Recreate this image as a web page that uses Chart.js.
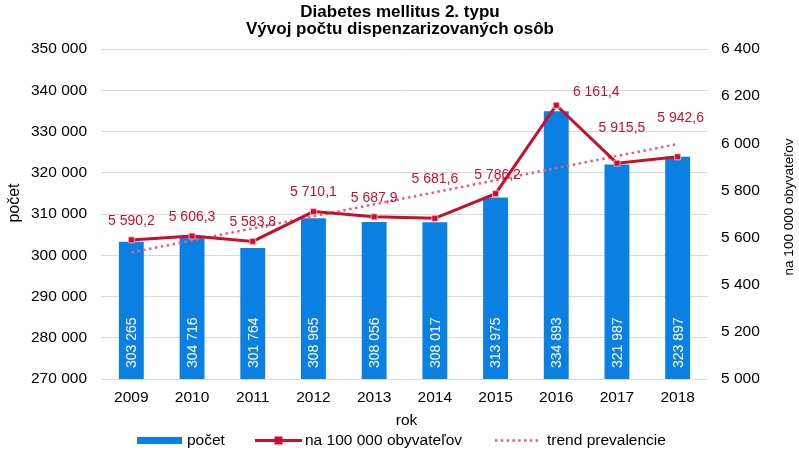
<!DOCTYPE html>
<html>
<head>
<meta charset="utf-8">
<script src="https://cdn.jsdelivr.net/npm/chart.js@4/dist/chart.umd.min.js"></script>
<style>
html,body{margin:0;padding:0;background:#fff;}
#wrap{width:799px;height:451px;position:relative;}
</style>
</head>
<body>
<div id="wrap"><canvas id="c" width="799" height="451"></canvas></div>
<script>
// ---- data ----
const years = ['2009','2010','2011','2012','2013','2014','2015','2016','2017','2018'];
const pocet = [303265, 304716, 301764, 308965, 308056, 308017, 313975, 334893, 321987, 323897];
const prevalencia = [5590.2, 5606.3, 5583.8, 5710.1, 5687.9, 5681.6, 5786.2, 6161.4, 5915.5, 5942.6];
const trend = [5537, 5588, 5639, 5690, 5741, 5792, 5843, 5895, 5946, 5997];
const leftTicks = [270000, 280000, 290000, 300000, 310000, 320000, 330000, 340000, 350000];
const rightTicks = [5000, 5200, 5400, 5600, 5800, 6000, 6200, 6400];
const titleLines = ['Diabetes mellitus 2. typu', 'Vývoj počtu dispenzarizovaných osôb'];
const seriesNames = ['počet', 'na 100 000 obyvateľov', 'trend prevalencie'];

// ---- styling / placement (not data) ----
const BLUE = '#0A80E2', RED = '#C8102E', PINK = '#F2587E';
const FONT = '"Liberation Sans", Arial, sans-serif';
const lineLabelOffsets = [[0,-19],[0,-19],[0,-19],[0,-19],[0,-19],[0,-39],[2,-19],[40,-13],[5,-35],[3,-39]];

function fmt(v, dec) {
  let s = v.toFixed(dec);
  let [i, d] = s.split('.');
  i = i.replace(/\B(?=(\d{3})+(?!\d))/g, ' ');
  return d ? i + ',' + d : i;
}

const drawExtras = {
  id: 'drawExtras',
  afterDatasetsDraw(chart) {
    const ctx = chart.ctx;
    const area = chart.chartArea;
    ctx.save();
    // bar labels
    const barMeta = chart.getDatasetMeta(0);
    ctx.fillStyle = '#ffffff';
    ctx.font = '14px ' + FONT;
    ctx.textBaseline = 'middle';
    ctx.textAlign = 'left';
    barMeta.data.forEach((el, i) => {
      ctx.save();
      ctx.translate(el.x, area.bottom - 11);
      ctx.rotate(-Math.PI / 2);
      ctx.fillText(fmt(pocet[i], 0), 0, 1);
      ctx.restore();
    });
    // line labels
    const lineMeta = chart.getDatasetMeta(1);
    ctx.fillStyle = RED;
    ctx.textAlign = 'center';
    lineMeta.data.forEach((el, i) => {
      const o = lineLabelOffsets[i];
      ctx.fillText(fmt(prevalencia[i], 1), el.x + o[0], el.y + o[1]);
    });
    ctx.restore();
  },
  afterDraw(chart) {
    const ctx = chart.ctx;
    const area = chart.chartArea;
    ctx.save();
    // title
    ctx.fillStyle = '#000';
    ctx.font = 'bold 17px ' + FONT;
    ctx.textAlign = 'center';
    ctx.textBaseline = 'alphabetic';
    ctx.fillText(titleLines[0], 400, 17);
    ctx.fillText(titleLines[1], 400, 34);
    // axis titles
    ctx.textBaseline = 'middle';
    ctx.font = '16px ' + FONT;
    ctx.save(); ctx.translate(15, 203); ctx.rotate(-Math.PI/2); ctx.fillText('počet', 0, 0); ctx.restore();
    ctx.font = '13.5px ' + FONT;
    ctx.save(); ctx.translate(789, 207); ctx.rotate(-Math.PI/2); ctx.fillText(seriesNames[1], 0, 0); ctx.restore();
    ctx.font = '15.5px ' + FONT;
    ctx.fillText('rok', (area.left + area.right) / 2 + 2, 421);
    // legend
    const ly = 440.5;
    ctx.font = '15.5px ' + FONT;
    ctx.textAlign = 'left';
    ctx.fillStyle = BLUE;
    ctx.fillRect(137, 437, 45, 7);
    ctx.fillStyle = '#000';
    ctx.fillText(seriesNames[0], 187, ly);
    ctx.strokeStyle = RED; ctx.lineWidth = 3;
    ctx.beginPath(); ctx.moveTo(255, ly); ctx.lineTo(302, ly); ctx.stroke();
    ctx.fillStyle = RED; ctx.fillRect(274.5, ly - 4, 8, 8);
    ctx.fillStyle = '#000';
    ctx.fillText(seriesNames[1], 305, ly);
    ctx.strokeStyle = PINK; ctx.lineWidth = 2.5; ctx.setLineDash([2.5, 3.3]);
    ctx.beginPath(); ctx.moveTo(495, ly); ctx.lineTo(541, ly); ctx.stroke();
    ctx.setLineDash([]);
    ctx.fillStyle = '#000';
    ctx.fillText(seriesNames[2], 547, ly);
    ctx.restore();
  }
};

new Chart(document.getElementById('c'), {
  data: {
    labels: years,
    datasets: [
      { type: 'bar', label: seriesNames[0], data: pocet, yAxisID: 'y', backgroundColor: BLUE,
        barPercentage: 0.41, categoryPercentage: 1.0, order: 3 },
      { type: 'line', label: seriesNames[1], data: prevalencia, yAxisID: 'y1', borderColor: RED, borderWidth: 3,
        pointStyle: 'rect', pointRadius: 4.2, pointBackgroundColor: RED, pointBorderColor: '#F3C2CB', pointBorderWidth: 0.8,
        tension: 0, order: 1 },
      { type: 'line', label: seriesNames[2], data: trend, yAxisID: 'y1', borderColor: PINK, borderWidth: 2.5,
        borderDash: [2.5, 3.5], pointRadius: 0, tension: 0, order: 2 }
    ]
  },
  options: {
    responsive: false,
    animation: false,
    events: [],
    layout: { padding: { top: 49, left: 0, right: 0, bottom: 0 } },
    plugins: { legend: { display: false }, title: { display: false }, tooltip: { enabled: false } },
    scales: {
      x: {
        grid: { display: false, drawTicks: false },
        border: { display: false },
        ticks: { color: '#000', font: { family: FONT, size: 15.5 }, padding: 9, maxRotation: 0 },
        afterFit(s) { s.height = 72; }
      },
      y: {
        position: 'left', min: 270000, max: 350000,
        afterBuildTicks(s) { s.ticks = leftTicks.map(v => ({ value: v })); },
        grid: { color: '#D9D9D9', lineWidth: 1, drawTicks: false },
        border: { display: false },
        ticks: { color: '#000', font: { family: FONT, size: 15.5 }, padding: 14, callback: v => fmt(v, 0) },
        afterFit(s) { s.width = 101; }
      },
      y1: {
        position: 'right', min: 5000, max: 6400,
        afterBuildTicks(s) { s.ticks = rightTicks.map(v => ({ value: v })); },
        grid: { display: false, drawTicks: false },
        border: { display: false },
        ticks: { color: '#000', font: { family: FONT, size: 15.5 }, padding: 13, callback: v => fmt(v, 0) },
        afterFit(s) { s.width = 91; }
      }
    }
  },
  plugins: [drawExtras]
});
</script>
</body>
</html>
